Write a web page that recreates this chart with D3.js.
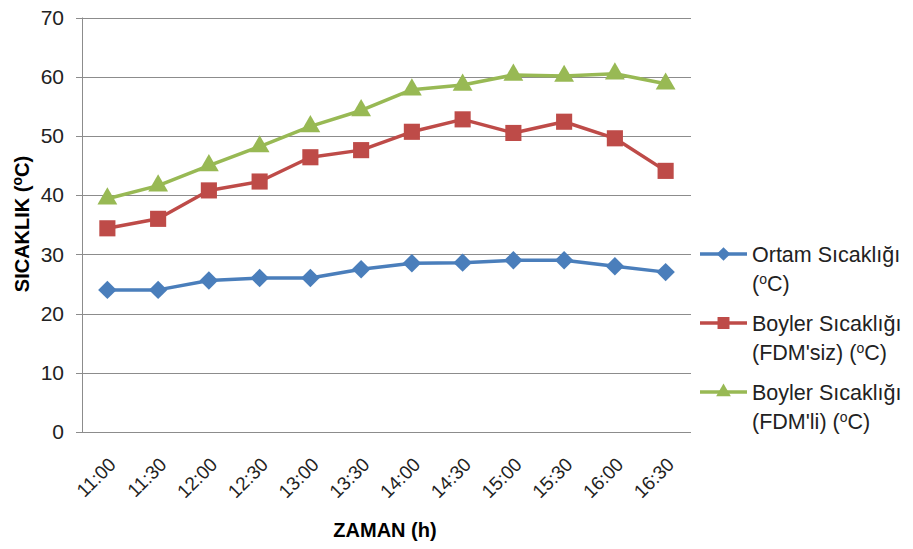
<!DOCTYPE html>
<html>
<head>
<meta charset="utf-8">
<script src="https://cdn.jsdelivr.net/npm/d3@7"></script>
<style>
  body { margin: 0; background: #fff; }
  text { font-family: "Liberation Sans", Arial, sans-serif; }
</style>
</head>
<body>
<div class="chart"></div>
<script>
// time categories (x axis)
const times = ["11:00","11:30","12:00","12:30","13:00","13:30","14:00","14:30","15:00","15:30","16:00","16:30"];
// series values
const ortam = [24, 24, 25.6, 26, 26, 27.5, 28.5, 28.6, 29, 29, 28, 27];
const boylerSiz = [34.4, 36, 40.8, 42.3, 46.4, 47.6, 50.7, 52.8, 50.5, 52.4, 49.6, 44.1];
const boylerLi = [39.4, 41.6, 45, 48.2, 51.6, 54.3, 57.8, 58.6, 60.3, 60.1, 60.5, 58.8];
const yTicks = [0, 10, 20, 30, 40, 50, 60, 70];

// diamonds are drawn as squares turned by 45 degrees
const series = [
    { name: ["Ortam Sıcaklığı", "(", ")"], values: ortam, color: "#4a7ebb", shape: d3.symbolSquare, size: 170, rot: 45 },
    { name: ["Boyler Sıcaklığı", "(FDM'siz) (", ")"], values: boylerSiz, color: "#be4b48", shape: d3.symbolSquare, size: 260, rot: 0 },
    { name: ["Boyler Sıcaklığı", "(FDM'li) (", ")"], values: boylerLi, color: "#98b954", shape: d3.symbolTriangle, size: 170, rot: 0 }
];

const W = 913, H = 549;
const plotL = 82, plotR = 691, plotT = 17.5, plotB = 432;

const svg = d3.select(".chart").append("svg")
    .attr("width", W)
    .attr("height", H);

const x = d3.scaleBand().domain(times).range([plotL, plotR]);
const y = d3.scaleLinear().domain([0, 70]).range([plotB, plotT]);

// gridlines
svg.append("g")
    .selectAll("line")
    .data(yTicks)
    .join("line")
        .attr("x1", plotL - 6)
        .attr("x2", plotR)
        .attr("y1", d => Math.round(y(d)) + 0.5)
        .attr("y2", d => Math.round(y(d)) + 0.5)
        .attr("stroke", "#8c8c8c")
        .attr("stroke-width", 1);

// y axis line
svg.append("line")
    .attr("x1", plotL + 0.5).attr("x2", plotL + 0.5)
    .attr("y1", y(70)).attr("y2", y(0))
    .attr("stroke", "#8c8c8c");

// y tick labels
svg.append("g")
    .selectAll("text")
    .data(yTicks)
    .join("text")
        .attr("x", plotL - 18)
        .attr("y", d => y(d))
        .attr("dy", "0.35em")
        .attr("text-anchor", "end")
        .attr("font-size", 21)
        .attr("fill", "#222")
        .text(d => d);

// x tick labels, rotated
svg.append("g")
    .selectAll("text")
    .data(times)
    .join("text")
        .attr("transform", d => `translate(${x(d) + x.bandwidth() / 2 + 5},${plotB + 29}) rotate(-45)`)
        .attr("text-anchor", "end")
        .attr("dy", "0.35em")
        .attr("font-size", 19)
        .attr("fill", "#222")
        .text(d => d);

// axis titles
svg.append("text")
    .attr("x", 385)
    .attr("y", 537)
    .attr("text-anchor", "middle")
    .attr("font-size", 20)
    .attr("font-weight", "bold")
    .text("ZAMAN (h)");

const yt = svg.append("text")
    .attr("transform", `translate(29,224) rotate(-90)`)
    .attr("text-anchor", "middle")
    .attr("font-size", 20)
    .attr("font-weight", "bold");
yt.append("tspan").text("SICAKLIK (");
yt.append("tspan").attr("dy", -7).attr("font-size", 14).text("o");
yt.append("tspan").attr("dy", 7).text("C)");

// lines and markers
const line = d3.line()
    .x((d, i) => x(times[i]) + x.bandwidth() / 2)
    .y(d => y(d));

series.forEach(s => {
    svg.append("path")
        .datum(s.values)
        .attr("d", line)
        .attr("fill", "none")
        .attr("stroke", s.color)
        .attr("stroke-width", 3.5)
        .attr("stroke-linejoin", "round");
    svg.append("g")
        .selectAll("path")
        .data(s.values)
        .join("path")
            .attr("transform", (d, i) => `translate(${x(times[i]) + x.bandwidth() / 2},${y(d)}) rotate(${s.rot})`)
            .attr("d", d3.symbol().type(s.shape).size(s.size))
            .attr("fill", s.color);
});

// legend
const legend = svg.append("g");
series.forEach((s, i) => {
    const ly = 254 + i * 69;
    legend.append("line")
        .attr("x1", 700).attr("x2", 747)
        .attr("y1", ly).attr("y2", ly)
        .attr("stroke", s.color)
        .attr("stroke-width", 3.5);
    legend.append("path")
        .attr("transform", `translate(723.5,${ly}) rotate(${s.rot})`)
        .attr("d", d3.symbol().type(s.shape).size(s.size * 0.55))
        .attr("fill", s.color);
    legend.append("text")
        .attr("x", 752)
        .attr("y", ly)
        .attr("dy", "0.35em")
        .attr("font-size", 21.5)
        .attr("fill", "#222")
        .text(s.name[0]);
    const t2 = legend.append("text")
        .attr("x", 752)
        .attr("y", ly + 29)
        .attr("dy", "0.35em")
        .attr("font-size", 21.5)
        .attr("fill", "#222");
    t2.append("tspan").text(s.name[1]);
    t2.append("tspan").attr("dy", -7).attr("font-size", 14).text("o");
    t2.append("tspan").attr("dy", 7).text("C" + s.name[2]);
});
</script>
</body>
</html>
